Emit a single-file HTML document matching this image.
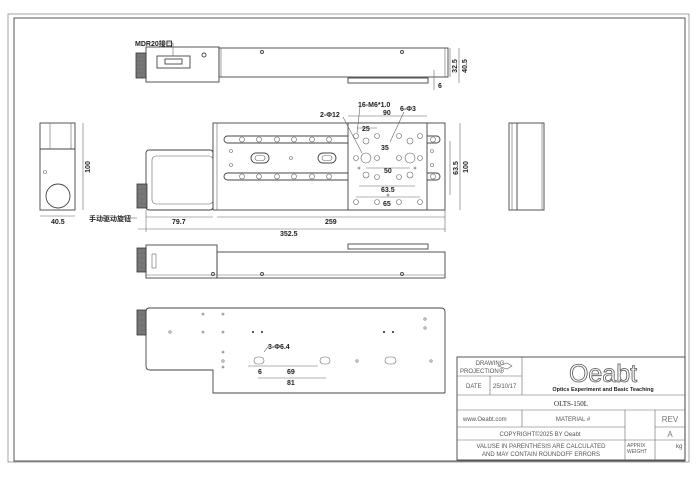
<!DOCTYPE html>
<html><head><meta charset="utf-8"><style>
html,body{margin:0;padding:0;background:#fff}
svg{display:block}
text{font-family:"Liberation Sans","Noto Sans CJK SC",sans-serif;fill:#222}
.l{fill:none;stroke:#444;stroke-width:0.9}
.t{fill:none;stroke:#666;stroke-width:0.6}
.k{fill:#777;stroke:#333;stroke-width:0.8}
.d{font-size:7px;font-weight:bold}
.s{font-size:6px;fill:#555}
</style></head><body>
<svg width="700" height="478" viewBox="0 0 700 478" xmlns="http://www.w3.org/2000/svg">
<!-- frame -->
<rect x="8" y="14" width="681" height="448" class="t"/>
<rect x="14" y="18" width="671" height="443" class="l"/>

<!-- top side view -->
<rect x="146" y="47" width="73" height="35" class="l"/>
<rect x="219" y="48" width="229" height="29" class="l"/>
<line x1="221" y1="48" x2="221" y2="77" class="t"/>
<line x1="445" y1="48" x2="445" y2="77" class="t"/>
<rect x="348" y="78" width="80" height="5" class="l"/>
<rect x="136" y="53" width="10" height="25" class="k"/>
<g class="t"><line x1="136" y1="57" x2="146" y2="57"/><line x1="136" y1="61" x2="146" y2="61"/><line x1="136" y1="65" x2="146" y2="65"/><line x1="136" y1="69" x2="146" y2="69"/><line x1="136" y1="73" x2="146" y2="73"/></g>
<rect x="157" y="56" width="33" height="12" class="l"/>
<rect x="165" y="59" width="17" height="5" class="l"/>
<circle cx="204" cy="55" r="2" class="l"/><circle cx="262" cy="52" r="1.5" class="l"/><circle cx="402" cy="52" r="1.5" class="l"/>
<text x="135" y="46" class="d">MDR20接口</text>
<line x1="162" y1="43" x2="173" y2="43" class="t"/><line x1="173" y1="43" x2="173" y2="56" class="t"/>
<line x1="450" y1="48" x2="450" y2="77" class="t"/><line x1="459" y1="48" x2="459" y2="83" class="t"/>
<text transform="translate(457,66) rotate(-90)" class="d" text-anchor="middle">32.5</text>
<text transform="translate(467,66) rotate(-90)" class="d" text-anchor="middle">40.5</text>
<line x1="434" y1="70" x2="434" y2="90" class="t"/><text x="438" y="88" class="d">6</text>

<!-- plan view -->
<rect x="213" y="123" width="232" height="87" class="l"/>
<line x1="217" y1="123" x2="217" y2="210" class="t"/>
<rect x="146" y="150" width="67" height="60" rx="3" class="l"/>
<rect x="152" y="156" width="61" height="48" rx="4" class="t"/>
<rect x="224" y="136" width="216" height="7" rx="3.5" class="l"/>
<rect x="224" y="173" width="216" height="7" rx="3.5" class="l"/>
<g class="t">
<circle cx="242" cy="139.5" r="2.5"/><circle cx="259" cy="139.5" r="2.5"/><circle cx="277" cy="139.5" r="2.5"/><circle cx="294" cy="139.5" r="2.5"/><circle cx="312" cy="139.5" r="2.5"/><circle cx="329" cy="139.5" r="2.5"/><circle cx="433" cy="139.5" r="2.5"/>
<circle cx="242" cy="176.5" r="2.5"/><circle cx="259" cy="176.5" r="2.5"/><circle cx="277" cy="176.5" r="2.5"/><circle cx="294" cy="176.5" r="2.5"/><circle cx="312" cy="176.5" r="2.5"/><circle cx="329" cy="176.5" r="2.5"/><circle cx="433" cy="176.5" r="2.5"/>
<circle cx="231" cy="151" r="1.5"/><circle cx="231" cy="165" r="1.5"/><circle cx="291" cy="158" r="1.5"/><circle cx="432" cy="151" r="1.5"/><circle cx="432" cy="165" r="1.5"/>
</g>
<rect x="251" y="153" width="18" height="10" rx="5" class="l"/><rect x="255" y="155.5" width="10" height="5" rx="2.5" class="t"/>
<rect x="318" y="153" width="18" height="10" rx="5" class="l"/><rect x="322" y="155.5" width="10" height="5" rx="2.5" class="t"/>
<rect x="348" y="123" width="79" height="87" class="l" style="fill:#fff"/>
<g class="t">
<circle cx="356" cy="136" r="2.5"/><circle cx="377" cy="136" r="2.5"/><circle cx="399" cy="136" r="2.5"/><circle cx="420" cy="136" r="2.5"/>
<circle cx="366" cy="141" r="3"/><circle cx="410" cy="141" r="3"/>
<circle cx="356" cy="158" r="2.5"/><circle cx="377" cy="158" r="2.5"/><circle cx="399" cy="158" r="2.5"/><circle cx="420" cy="158" r="2.5"/>
<circle cx="366" cy="158" r="5"/><circle cx="410" cy="158" r="5"/>
<circle cx="366" cy="175" r="3"/><circle cx="410" cy="175" r="3"/>
<circle cx="377" cy="177" r="2.5"/><circle cx="399" cy="177" r="2.5"/>
<circle cx="356" cy="202" r="2.5"/><circle cx="377" cy="202" r="2.5"/><circle cx="399" cy="202" r="2.5"/><circle cx="420" cy="202" r="2.5"/>
<circle cx="359" cy="168" r="1"/><circle cx="415" cy="168" r="1"/><circle cx="388" cy="195" r="1"/>
</g>
<g class="t">
<line x1="348" y1="116" x2="427" y2="116"/><line x1="357" y1="128" x2="377" y2="128"/>
<line x1="366" y1="168" x2="410" y2="168"/><line x1="359" y1="186" x2="415" y2="186"/><line x1="356" y1="197" x2="420" y2="197"/>
<line x1="360" y1="107" x2="357" y2="133"/><line x1="343" y1="117" x2="362" y2="153"/><line x1="404" y1="112" x2="390" y2="142"/>
<line x1="450" y1="141" x2="450" y2="195"/><line x1="460" y1="123" x2="460" y2="210"/>
<line x1="146" y1="217" x2="213" y2="217"/><line x1="217" y1="217" x2="445" y2="217"/><line x1="138" y1="229" x2="445" y2="229"/>
<line x1="146" y1="210" x2="146" y2="232"/><line x1="445" y1="210" x2="445" y2="232"/>
</g>
<text x="358" y="107" class="d">16-M6*1.0</text>
<text x="320" y="117" class="d">2-Φ12</text>
<text x="400" y="111" class="d">6-Φ3</text>
<text x="383" y="115" class="d">90</text>
<text x="362" y="131" class="d">25</text>
<text x="381" y="150" class="d">35</text>
<text x="384" y="173" class="d">50</text>
<text x="381" y="192" class="d">63.5</text>
<text x="383" y="206" class="d">65</text>
<text transform="translate(458,168) rotate(-90)" class="d" text-anchor="middle">63.5</text>
<text transform="translate(468,167) rotate(-90)" class="d" text-anchor="middle">100</text>
<text x="172" y="224" class="d">79.7</text>
<text x="325" y="224" class="d">259</text>
<text x="280" y="236" class="d">352.5</text>
<rect x="137" y="184" width="10" height="24" class="k"/>
<g class="t"><line x1="137" y1="189" x2="147" y2="189"/><line x1="137" y1="194" x2="147" y2="194"/><line x1="137" y1="199" x2="147" y2="199"/><line x1="137" y1="204" x2="147" y2="204"/></g>
<text x="89" y="221" class="d">手动驱动旋钮</text>
<line x1="126" y1="218" x2="137" y2="218" class="t"/>

<!-- left end view -->
<rect x="40" y="123" width="35" height="87" class="l"/>
<line x1="40" y1="149" x2="75" y2="149" class="l"/>
<line x1="50" y1="123" x2="50" y2="149" class="t"/><line x1="71" y1="123" x2="71" y2="149" class="t"/>
<circle cx="58" cy="196" r="12" class="l"/><circle cx="45" cy="172" r="1.5" class="t"/>
<line x1="83" y1="123" x2="83" y2="210" class="t"/><line x1="40" y1="216" x2="75" y2="216" class="t"/>
<text transform="translate(90,167) rotate(-90)" class="d" text-anchor="middle">100</text>
<text x="51" y="224" class="d">40.5</text>

<!-- right end view -->
<rect x="509" y="123" width="35" height="87" class="l"/>
<line x1="512" y1="123" x2="512" y2="210" class="t"/><line x1="517" y1="123" x2="517" y2="210" class="l"/><line x1="542" y1="123" x2="542" y2="210" class="t"/>

<!-- front side view -->
<rect x="146" y="245" width="71" height="33" class="l"/>
<rect x="217" y="252" width="228" height="26" class="l"/>
<line x1="146" y1="275" x2="445" y2="275" class="t"/>
<rect x="348" y="244" width="80" height="5" class="l"/>
<rect x="137" y="248" width="9" height="24" class="k"/>
<g class="t"><line x1="137" y1="253" x2="146" y2="253"/><line x1="137" y1="258" x2="146" y2="258"/><line x1="137" y1="263" x2="146" y2="263"/><line x1="137" y1="268" x2="146" y2="268"/></g>
<rect x="152" y="254" width="4" height="14" class="t"/>
<circle cx="213" cy="274" r="1.5" class="l"/><circle cx="262" cy="274" r="1.5" class="l"/><circle cx="402" cy="274" r="1.5" class="l"/>

<!-- bottom view -->
<path d="M149,308 H441 Q445,308 445,312 V393 M445,393 H213 V370 H150 Q146,370 146,366 V312 Q146,308 149,308" class="l"/>
<rect x="137" y="310" width="9" height="25" class="k"/>
<g class="t"><line x1="137" y1="315" x2="146" y2="315"/><line x1="137" y1="320" x2="146" y2="320"/><line x1="137" y1="325" x2="146" y2="325"/><line x1="137" y1="330" x2="146" y2="330"/></g>
<g class="t">
<circle cx="170" cy="332" r="1.2"/><circle cx="203" cy="332" r="1"/><circle cx="223" cy="332" r="1"/><circle cx="203" cy="314" r="1"/><circle cx="223" cy="314" r="1"/>
<circle cx="425" cy="319" r="1.2"/><circle cx="425" cy="328" r="1.2"/><circle cx="223" cy="352" r="1"/><circle cx="223" cy="361" r="1.2"/><circle cx="223" cy="367" r="1"/>
<circle cx="357" cy="361" r="1.2"/><circle cx="431" cy="361" r="1.2"/>
<rect x="254" y="357" width="10" height="7" rx="3.5"/><rect x="320" y="357" width="10" height="7" rx="3.5"/><rect x="385" y="357" width="11" height="7" rx="3.5"/>
<line x1="248" y1="366" x2="318" y2="366"/><line x1="258" y1="378" x2="326" y2="378"/><line x1="264" y1="352" x2="270" y2="344"/>
</g>
<g style="fill:#222"><circle cx="253" cy="332" r="1"/><circle cx="262" cy="332" r="1"/><circle cx="384" cy="332" r="1"/><circle cx="393" cy="332" r="1"/></g>
<text x="268" y="349" class="d">3-Φ6.4</text>
<text x="258" y="374" class="d">6</text>
<text x="287" y="374" class="d">69</text>
<text x="287" y="385" class="d">81</text>

<!-- title block -->
<rect x="457" y="357" width="228" height="103" class="l"/>
<g class="t">
<line x1="522" y1="357" x2="522" y2="395"/>
<line x1="457" y1="376" x2="522" y2="376"/>
<line x1="490" y1="376" x2="490" y2="395"/>
<line x1="457" y1="395" x2="685" y2="395"/>
<line x1="457" y1="410" x2="685" y2="410"/>
<line x1="522" y1="410" x2="522" y2="427"/>
<line x1="625" y1="410" x2="625" y2="460"/>
<line x1="655" y1="410" x2="655" y2="460"/>
<line x1="457" y1="427" x2="625" y2="427"/>
<line x1="655" y1="427" x2="685" y2="427"/>
<line x1="457" y1="440" x2="685" y2="440"/>
<path d="M498,366 L507,363 L512,366 L507,369 Z"/>
</g>
<text x="490" y="365" class="s" text-anchor="middle">DRAWING</text>
<text x="460" y="373" class="s">PROJECTION⊕</text>
<text x="466" y="388" class="s">DATE</text>
<text x="493" y="388" class="s">25/10/17</text>
<text x="603" y="382" text-anchor="middle" style="font-family:'Liberation Sans',sans-serif;font-size:25px;fill:none;stroke:#555;stroke-width:0.8">Oeabt</text>
<text x="603" y="391" font-size="5.5" font-weight="bold" text-anchor="middle">Optics Experiment and Basic Teaching</text>
<text x="571" y="406" font-size="7" text-anchor="middle" style="font-family:'Liberation Serif',serif">OLTS-150L</text>
<text x="463" y="421" class="s">www.Oeabt.com</text>
<text x="573" y="421" class="s" text-anchor="middle">MATERIAL #</text>
<text x="670" y="422" font-size="8" text-anchor="middle" style="fill:#777">REV</text>
<text x="540" y="436" class="s" text-anchor="middle">COPYRIGHT©2025 BY Oeabt</text>
<text x="670" y="437" font-size="8" text-anchor="middle" style="fill:#777">A</text>
<text x="541" y="448" class="s" text-anchor="middle">VALUSE IN PARENTHESIS ARE CALCULATED</text>
<text x="541" y="456" class="s" text-anchor="middle">AND MAY CONTAIN ROUNDOFF ERRORS</text>
<text x="627" y="447" font-size="5" style="fill:#555">APPRIX</text>
<text x="627" y="453" font-size="5" style="fill:#555">WEIGHT</text>
<text x="676" y="448" font-size="6" style="fill:#555">kg</text>
</svg>
</body></html>
